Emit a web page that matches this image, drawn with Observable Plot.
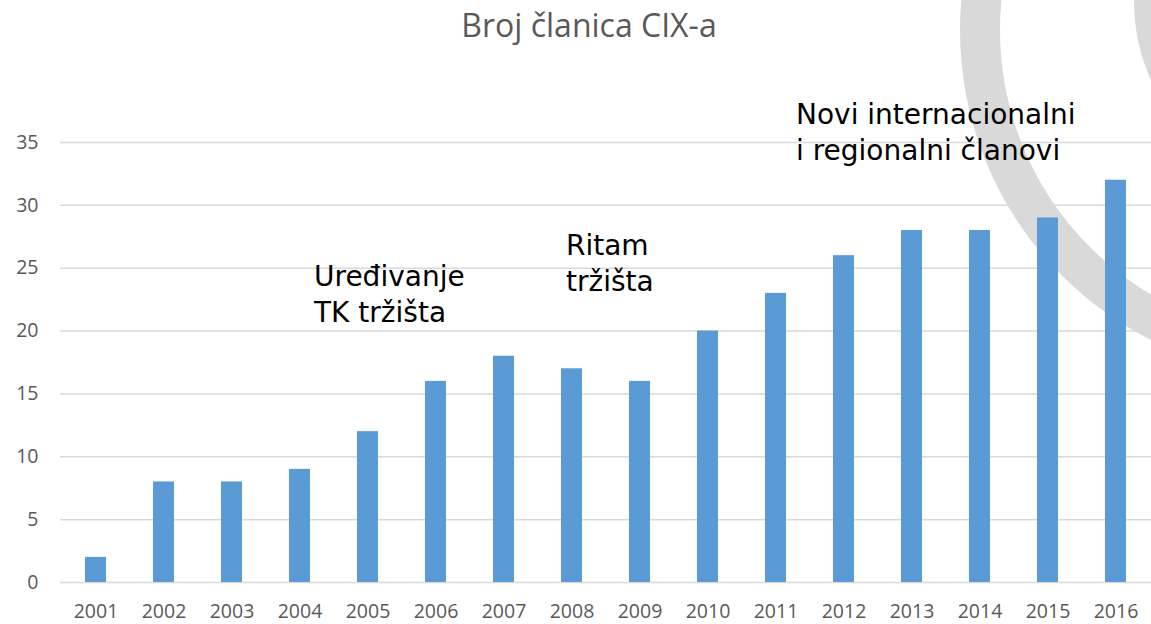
<!DOCTYPE html>
<html>
<head>
<meta charset="utf-8">
<script src="https://cdn.jsdelivr.net/npm/d3@7"></script>
<script src="https://cdn.jsdelivr.net/npm/@observablehq/plot@0.6"></script>
<style>
  html, body { margin: 0; padding: 0; background: #fff; width: 1151px; height: 624px; overflow: hidden; }
  #wrap { position: relative; width: 1151px; height: 624px; }
  #deco { position: absolute; left: 0; top: 0; z-index: 0; }
  #title { position: absolute; left: 589px; top: 3px; transform: translateX(-50%); white-space: nowrap;
           font-family: "Open Sans", sans-serif; font-size: 32px; line-height: normal; color: #595959; z-index: 2; }
  #chart { position: absolute; left: 0; top: 50px; z-index: 1; }
</style>
</head>
<body>
<div id="wrap">
  <svg id="deco" width="1151" height="624">
    <circle cx="1307" cy="30" r="327" fill="none" stroke="#d9d9d9" stroke-width="40"></circle>
    <circle cx="1323" cy="2" r="169" fill="none" stroke="#d9d9d9" stroke-width="40"></circle>
  </svg>
  <div id="title">Broj članica CIX-a</div>
  <div id="chart"></div>
</div>
<script>
const years = ["2001","2002","2003","2004","2005","2006","2007","2008","2009","2010","2011","2012","2013","2014","2015","2016"];
const members = [2, 8, 8, 9, 12, 16, 18, 17, 16, 20, 23, 26, 28, 28, 29, 32];
const yTicks = [0, 5, 10, 15, 20, 25, 30, 35];
const noteYears = ["2004", "2008", "2011"];
const noteLevels = [25.62, 28.09, 38.55];
const noteTexts = ["Uređivanje\nTK tržišta", "Ritam\ntržišta", "Novi internacionalni\ni regionalni članovi"];

const data = years.map((y, i) => ({year: y, value: members[i]}));
const notes = noteYears.map((y, i) => ({year: y, level: noteLevels[i], text: noteTexts[i]}));
const noteDx = [14, -6, 20];

const chart = Plot.plot({
  width: 1151,
  height: 574,
  marginTop: 92,
  marginBottom: 42,
  marginLeft: 60,
  marginRight: 0,
  style: {background: "transparent", overflow: "visible", fontFamily: "'Open Sans', sans-serif"},
  x: {domain: years, paddingInner: 0.69, paddingOuter: 0.345, label: null, tickSize: 0, tickPadding: 22},
  y: {domain: [0, 35], ticks: yTicks, label: null, tickSize: 0, tickPadding: 22},
  marks: [
    Plot.ruleY(yTicks, {stroke: "#d9d9d9", strokeWidth: 1.5}),
    Plot.barY(data, {x: "year", y: "value", fill: "#5b9bd5"}),
    Plot.axisX({tickSize: 0, tickPadding: 22, fontSize: 19.5, color: "#595959", label: null}),
    Plot.axisY({ticks: yTicks, tickSize: 0, tickPadding: 22, fontSize: 19.5, color: "#595959", label: null}),
    ...notes.map((n, i) => Plot.text([n], {
      x: "year", y: "level", text: "text",
      textAnchor: "start", lineAnchor: "top", lineHeight: 1.29,
      dx: noteDx[i], fontSize: 28, fontFamily: "'DejaVu Sans', sans-serif", fill: "#000"
    }))
  ]
});
document.getElementById("chart").appendChild(chart);
</script>
</body>
</html>
